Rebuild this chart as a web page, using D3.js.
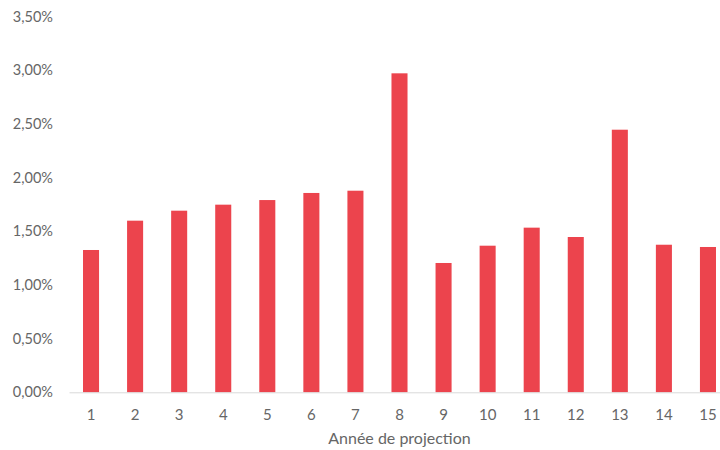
<!DOCTYPE html>
<html>
<head>
<meta charset="utf-8">
<script src="https://cdn.jsdelivr.net/npm/d3@7"></script>
<style>
  html, body { margin: 0; padding: 0; background: #fff; }
  svg { display: block; }
  text { font-family: Lato, "Open Sans", sans-serif; }
</style>
</head>
<body>
<svg id="chart" width="720" height="450"></svg>
<script>
// Projection years and their annual rates (in %)
const years = ["1","2","3","4","5","6","7","8","9","10","11","12","13","14","15"];
const rates = [1.325, 1.598, 1.691, 1.747, 1.790, 1.856, 1.877, 2.970, 1.204, 1.365, 1.533, 1.446, 2.445, 1.374, 1.353];
const yTicks = [0, 0.5, 1.0, 1.5, 2.0, 2.5, 3.0, 3.5];
const xTitle = "Année de projection";

const svg = d3.select("#chart");
const plotLeft = 69, plotRight = 730, plotTop = 16.4, plotBottom = 392.3;

const x = d3.scaleBand().domain(years).range([plotLeft, plotRight]).paddingInner(0.636).paddingOuter(0.318);
const y = d3.scaleLinear().domain([0, 3.5]).range([plotBottom, plotTop]);

const fmt = v => v.toFixed(2).replace(".", ",") + "%";

// y-axis labels (no axis line, no gridlines)
const yAxis = d3.axisLeft(y).tickValues(yTicks).tickFormat(fmt).tickSize(0).tickPadding(0);
const gy = svg.append("g").attr("transform", `translate(53,0)`).call(yAxis);
gy.select(".domain").remove();
gy.selectAll("text").attr("fill", "#666").style("font-size", "14.5px");

// bars
svg.append("g").selectAll("rect")
  .data(rates)
  .join("rect")
  .attr("x", (d, i) => x(years[i]))
  .attr("y", d => y(d))
  .attr("width", x.bandwidth())
  .attr("height", d => y(0) - y(d))
  .attr("fill", "#EC444D");

// x axis
const xAxis = d3.axisBottom(x).tickSize(0).tickPadding(17);
const gx = svg.append("g").attr("transform", `translate(0,${plotBottom})`).call(xAxis);
gx.select(".domain").attr("stroke", "#d9d9d9").attr("stroke-width", 1);
gx.selectAll("text").attr("fill", "#666").style("font-size", "15px");

// axis title
svg.append("text")
  .attr("x", (plotLeft + plotRight) / 2)
  .attr("y", 444)
  .attr("text-anchor", "middle")
  .attr("fill", "#666")
  .style("font-size", "16px")
  .text(xTitle);
</script>
</body>
</html>
